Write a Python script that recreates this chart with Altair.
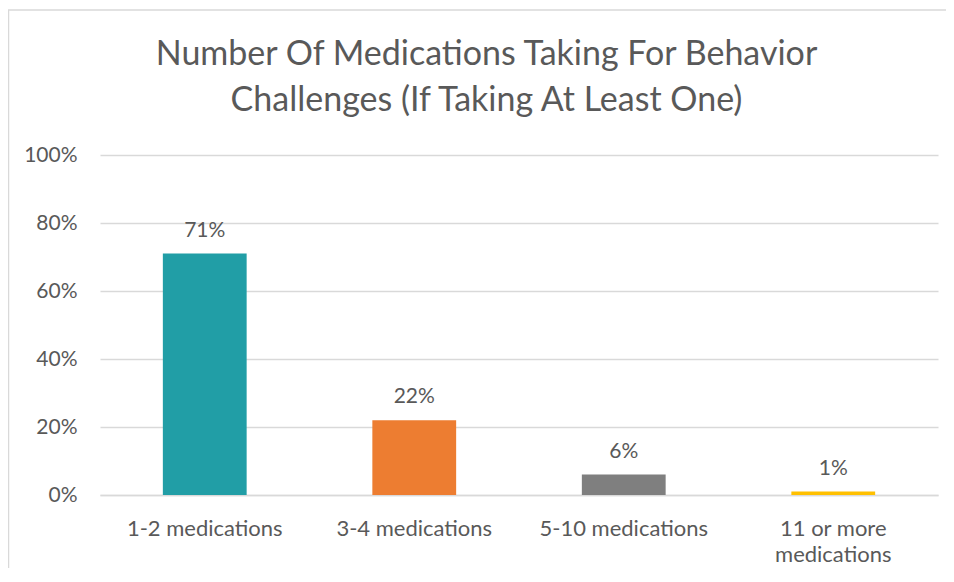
import altair as alt
import pandas as pd

categories = ["1-2 medications", "3-4 medications", "5-10 medications", "11 or more medications"]
values = [0.71, 0.22, 0.06, 0.01]
labels = ["71%", "22%", "6%", "1%"]
colors = ["#219EA6", "#ED7D31", "#7F7F7F", "#FFC000"]
title_lines = ["Number Of Medications Taking For Behavior", "Challenges (If Taking At Least One)"]

df = pd.DataFrame({"category": categories, "value": values, "label": labels, "color": colors})
title_df = pd.DataFrame({"line": title_lines, "row": [0, 1]})

NUM_FONT = "Lato"
CAT_FONT = "Lato"
TITLE_FONT = "Lato"
TXT = "#595959"

x = alt.X("category:N", sort=categories, title=None,
          scale=alt.Scale(paddingInner=0.6, paddingOuter=0.3),
          axis=alt.Axis(labelAngle=0, labelFontSize=22, labelColor=TXT, labelFont=CAT_FONT,
                        ticks=False, domainColor="#D9D9D9", domainWidth=1.3,
                        labelPadding=40, labelBaseline="alphabetic",
                        labelLineHeight=26,
                        labelExpr="datum.label == '11 or more medications' ? ['11 or more', 'medications'] : datum.label"))
y = alt.Y("value:Q", title=None,
          scale=alt.Scale(domain=[0, 1]),
          axis=alt.Axis(format="%", values=[0, 0.2, 0.4, 0.6, 0.8, 1.0], labelFontSize=21,
                        labelColor=TXT, labelFont=NUM_FONT, ticks=False, domain=False,
                        gridColor="#D9D9D9", gridWidth=1.3, labelPadding=23))

base = alt.Chart(df)

bars = base.mark_bar().encode(
    x=x, y=y,
    color=alt.Color("color:N", scale=None),
)

text = base.mark_text(dy=-17, fontSize=21, color=TXT, font=NUM_FONT, baseline="alphabetic").encode(
    x=alt.X("category:N", sort=categories),
    y="value:Q",
    text="label:N",
)

title_base = alt.Chart(title_df).mark_text(
    fontSize=34, font=TITLE_FONT, color=TXT, baseline="alphabetic", align="center"
)
title1 = title_base.transform_filter("datum.row == 0").encode(
    x=alt.value(386.5), y=alt.value(-90), text="line:N")
title2 = title_base.transform_filter("datum.row == 1").encode(
    x=alt.value(386.5), y=alt.value(-44), text="line:N")

border = alt.Chart(pd.DataFrame({"a": [0]})).mark_rect(
    fill=None, stroke="#D9D9D9", strokeWidth=1.5
).encode(
    x=alt.value(-91.5), x2=alt.value(900), y=alt.value(-145), y2=alt.value(460)
)

chart = alt.layer(border, bars, text, title1, title2).properties(
    width=838, height=340,
    padding={"left": 92, "top": 147, "right": 8, "bottom": 73},
    autosize=alt.AutoSizeParams(type="none"),
).configure_view(stroke=None)

chart.save("out.html", embed_options={"renderer": "svg", "actions": False})
